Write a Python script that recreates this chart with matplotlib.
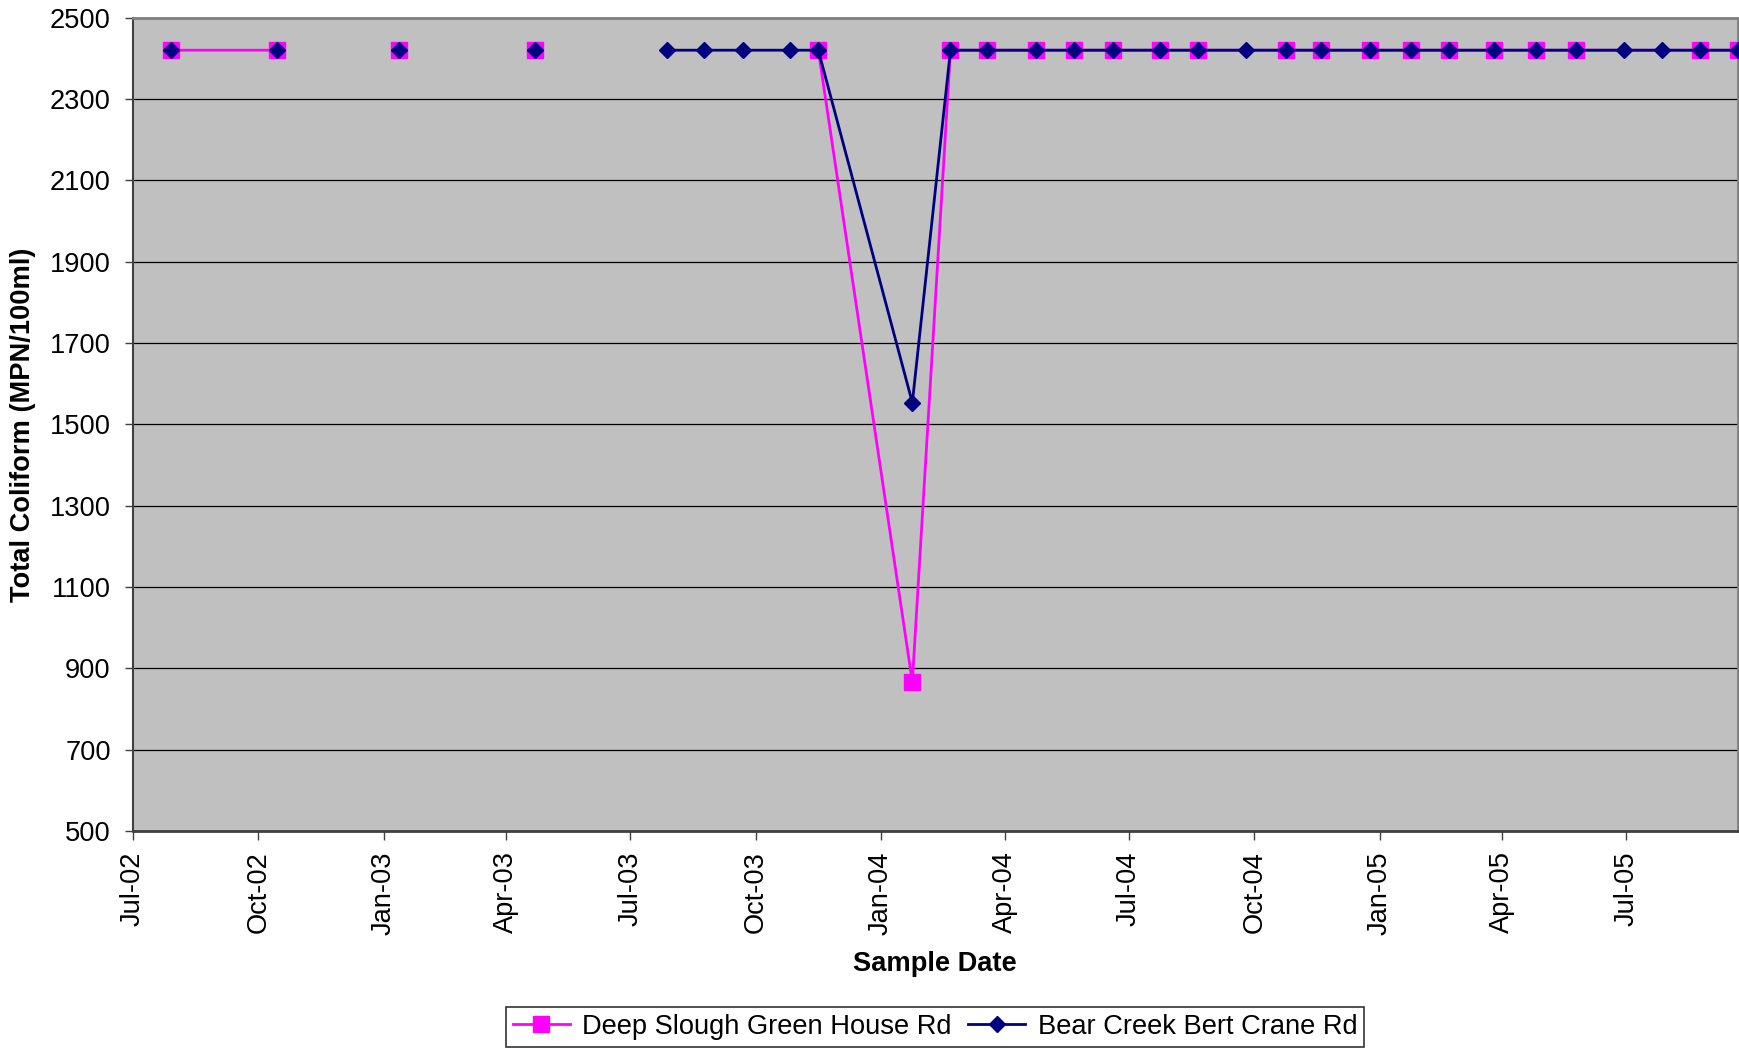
import numpy as np
import pandas as pd
import matplotlib
matplotlib.use("Agg")
import matplotlib.pyplot as plt
import matplotlib.dates as mdates

plt.rcParams['font.family'] = ['Liberation Sans', 'DejaVu Sans']

# Deep Slough Green House Rd (NaN = break in line)
pink_dates = ["2002-07-29", "2002-10-15", "2002-11-30", "2003-01-12", "2003-03-01",
              "2003-04-22", "2003-08-01", "2003-11-16", "2004-01-24", "2004-02-21",
              "2004-03-19", "2004-04-24", "2004-05-22", "2004-06-19", "2004-07-24",
              "2004-08-21", "2004-10-24", "2004-11-19", "2004-12-25", "2005-01-24",
              "2005-02-21", "2005-03-26", "2005-04-26", "2005-05-25", "2005-08-24",
              "2005-09-21"]
pink_vals = [2419.6, 2419.6, np.nan, 2419.6, np.nan,
             2419.6, np.nan, 2419.6, 866.4, 2419.6,
             2419.6, 2419.6, 2419.6, 2419.6, 2419.6,
             2419.6, 2419.6, 2419.6, 2419.6, 2419.6,
             2419.6, 2419.6, 2419.6, 2419.6, 2419.6,
             2419.6]

# Bear Creek Bert Crane Rd
navy_dates = ["2002-07-29", "2002-09-01", "2002-10-15", "2002-11-30", "2003-01-12",
              "2003-03-01", "2003-04-22", "2003-06-01", "2003-07-28", "2003-08-24",
              "2003-09-22", "2003-10-26", "2003-11-16", "2004-01-24", "2004-02-21",
              "2004-03-19", "2004-04-24", "2004-05-22", "2004-06-19", "2004-07-24",
              "2004-08-21", "2004-09-25", "2004-10-24", "2004-11-19", "2004-12-25",
              "2005-01-24", "2005-02-21", "2005-03-26", "2005-04-26", "2005-05-25",
              "2005-06-29", "2005-07-27", "2005-08-24", "2005-09-21"]
navy_vals = [2419.6, np.nan, 2419.6, np.nan, 2419.6,
             np.nan, 2419.6, np.nan, 2419.6, 2419.6,
             2419.6, 2419.6, 2419.6, 1553.1, 2419.6,
             2419.6, 2419.6, 2419.6, 2419.6, 2419.6,
             2419.6, 2419.6, 2419.6, 2419.6, 2419.6,
             2419.6, 2419.6, 2419.6, 2419.6, 2419.6,
             2419.6, 2419.6, 2419.6, 2419.6]

series_names = ["Deep Slough Green House Rd", "Bear Creek Bert Crane Rd"]
y_ticks = list(range(500, 2501, 200))
x_start, x_end = "2002-07-01", "2005-09-21"

FS = 19.6

fig = plt.figure(figsize=(17.39, 10.48), dpi=100)
ax = fig.add_axes([133/1739, 1 - 831/1048, (1738 - 133)/1739, (831 - 17.5)/1048])
ax.set_facecolor('#C0C0C0')

pd_p = pd.to_datetime(pink_dates)
pd_n = pd.to_datetime(navy_dates)
ax.plot(pd_p, pink_vals, color='#FF00FF', lw=2, marker='s', markersize=11,
        markerfacecolor='#FF00FF', markeredgecolor='#FF00FF', label=series_names[0],
        clip_on=False, zorder=3)
ax.plot(pd_n, navy_vals, color='#000080', lw=2, marker='D', markersize=8.2,
        markerfacecolor='#000080', markeredgecolor='#000080', label=series_names[1],
        clip_on=False, zorder=4)

ax.set_ylim(500, 2500)
ax.set_yticks(y_ticks)
ax.set_xlim(pd.Timestamp(x_start), pd.Timestamp(x_end))
ax.xaxis.set_major_locator(mdates.MonthLocator(bymonth=[1, 4, 7, 10]))
ax.xaxis.set_major_formatter(mdates.DateFormatter('%b-%y'))
ax.grid(axis='y', color='black', lw=0.9)
ax.set_axisbelow(True)

ax.tick_params(axis='y', labelsize=FS, length=6, width=1, color='#404040', pad=10)
ax.tick_params(axis='x', labelsize=FS, length=6.5, width=1, color='#404040', pad=8,
               labelrotation=90)

ax.spines['left'].set_color('#404040')
ax.spines['left'].set_linewidth(1.5)
ax.spines['bottom'].set_color('#404040')
ax.spines['bottom'].set_linewidth(2)
ax.spines['top'].set_color('#808080')
ax.spines['top'].set_linewidth(2)
ax.spines['right'].set_color('#808080')
ax.spines['right'].set_linewidth(2)

fig.text(0.5375, 1 - 964/1048, "Sample Date", fontsize=FS, fontweight='bold',
         ha='center', va='center')
fig.text(0.0135, 1 - 425/1048, "Total Coliform (MPN/100ml)", fontsize=FS,
         fontweight='bold', rotation=90, ha='center', va='center')

leg = fig.legend(loc='lower center', bbox_to_anchor=(935/1739, 0.0), ncol=2,
                 fontsize=FS, frameon=True, fancybox=False, edgecolor='black',
                 borderpad=0.25, columnspacing=0.6, handlelength=2.1,
                 handletextpad=0.45, borderaxespad=0.05)
leg.get_frame().set_linewidth(1.2)

fig.savefig("out.png", dpi=100, facecolor='white')
